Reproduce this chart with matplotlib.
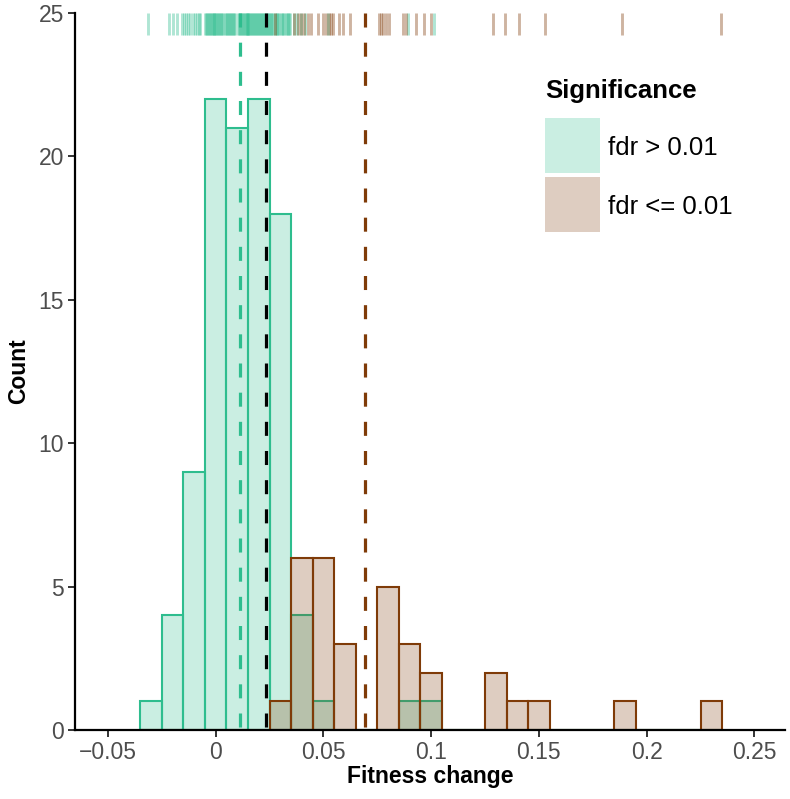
import numpy as np
import matplotlib
matplotlib.use("Agg")
import matplotlib.pyplot as plt
from matplotlib.patches import Rectangle

# === Data: fitness change per mutant, split by significance ===
fit_insig = [-0.0312,
             -0.0215, -0.0198, -0.0178, -0.0158,
             -0.0148, -0.0139, -0.0128, -0.0117, -0.0105, -0.0096, -0.0088, -0.0079, -0.0071,
             -0.0048, -0.0044, -0.0040, -0.0036, -0.0031, -0.0027, -0.0023, -0.0019, -0.0014, -0.0010, -0.0006,
             -0.0002, 0.0003, 0.0007, 0.0012, 0.0017, 0.0021, 0.0026, 0.0031, 0.0036, 0.0041, 0.0046,
             0.0053, 0.0057, 0.0062, 0.0066, 0.0071, 0.0075, 0.0079, 0.0084, 0.0088, 0.0104, 0.0108,
             0.0113, 0.0117, 0.0122, 0.0126, 0.0131, 0.0135, 0.0139, 0.0143, 0.0146, 0.0149,
             0.0152, 0.0156, 0.0161, 0.0165, 0.0169, 0.0174, 0.0178, 0.0183, 0.0187, 0.0191, 0.0196,
             0.0201, 0.0205, 0.0210, 0.0214, 0.0219, 0.0223, 0.0228, 0.0232, 0.0237, 0.0242, 0.0246,
             0.0252, 0.0257, 0.0263, 0.0268, 0.0273, 0.0279, 0.0284, 0.0289, 0.0295, 0.0301, 0.0307,
             0.0312, 0.0318, 0.0324, 0.0329, 0.0335, 0.0341, 0.0347,
             0.0362, 0.0378, 0.0396, 0.0413,
             0.0521, 0.0894, 0.1014]

fit_sig = [0.0275,
           0.0362, 0.0381, 0.0395, 0.0410, 0.0428, 0.0442,
           0.0475, 0.0498, 0.0510, 0.0525, 0.0535, 0.0545,
           0.0570, 0.0590, 0.0624,
           0.0757, 0.0768, 0.0778, 0.0790, 0.0803,
           0.0868, 0.0885, 0.0930,
           0.0965, 0.1000,
           0.1288, 0.1342, 0.1408, 0.1528, 0.1884, 0.2345]

# means (dashed lines)
mean_insig = 0.0113
mean_all = 0.0232
mean_sig = 0.0693

labels = ["fdr > 0.01", "fdr <= 0.01"]
col_insig = "#2EBD8E"
col_sig = "#7F3B08"

binwidth = 0.01
edges = np.arange(-0.035, 0.2351, binwidth)

plt.rcParams['font.family'] = ['Liberation Sans', 'DejaVu Sans']
plt.rcParams['lines.scale_dashes'] = False

W, H = 790, 799
fig = plt.figure(figsize=(W / 100, H / 100), dpi=100)
ax = fig.add_axes([75/W, 69/H, 710/W, 717/H])

# === Histograms ===
for vals, col in [(fit_insig, col_insig), (fit_sig, col_sig)]:
    fc = matplotlib.colors.to_rgba(col, 0.25)
    ax.hist(vals, bins=edges, facecolor=fc, edgecolor=col, linewidth=1.5, zorder=2)

# === Rug on top ===
for vals, col in [(fit_insig, col_insig), (fit_sig, col_sig)]:
    ax.vlines(vals, 0.97, 1.0, transform=ax.get_xaxis_transform(),
              color=col, alpha=0.38, linewidth=2.1, zorder=3)

# === Mean lines ===
for m, col in [(mean_insig, col_insig), (mean_all, "black"), (mean_sig, col_sig)]:
    ax.plot([m, m], [25, 0], color=col, linewidth=2.3, dashes=(10.1, 10.9), zorder=4)

ax.set_xlim(-0.0653, 0.2642)
ax.set_ylim(0, 25)
ax.set_xticks([-0.05, 0, 0.05, 0.1, 0.15, 0.2, 0.25])
ax.set_xticklabels(["\u22120.05", "0", "0.05", "0.1", "0.15", "0.2", "0.25"])
ax.set_yticks([0, 5, 10, 15, 20, 25])

for s in ["top", "right"]:
    ax.spines[s].set_visible(False)
for s in ["left", "bottom"]:
    ax.spines[s].set_linewidth(1.6)
    ax.spines[s].set_color("black")
ax.spines["left"].set_bounds(0, 25)
ax.tick_params(colors="#333333", width=1.4, length=5, labelsize=16.5, pad=3)
for t in ax.get_xticklabels() + ax.get_yticklabels():
    t.set_color("#4D4D4D")

ax.set_xlabel("Fitness change", fontsize=16.5, fontweight="bold", labelpad=1)
ax.set_ylabel("Count", fontsize=16.5, fontweight="bold", labelpad=6)

# === Legend (drawn by hand, pixel positions) ===
def fx(x):
    return x / W

def fy(y):
    return 1 - y / H

fig.text(fx(545), fy(98), "Significance", fontsize=18.5, fontweight="bold",
         ha="left", va="baseline")
key_tops = [118, 177]
for lab, col, top in zip(labels, [col_insig, col_sig], key_tops):
    fig.add_artist(Rectangle((fx(545), fy(top + 55)), 55 / W, 55 / H,
                             transform=fig.transFigure,
                             facecolor=matplotlib.colors.to_rgba(col, 0.25),
                             edgecolor="none"))
    fig.text(fx(608), fy(top + 27.5), lab, fontsize=18.5, ha="left", va="center_baseline")

fig.savefig("out.png", dpi=100)
